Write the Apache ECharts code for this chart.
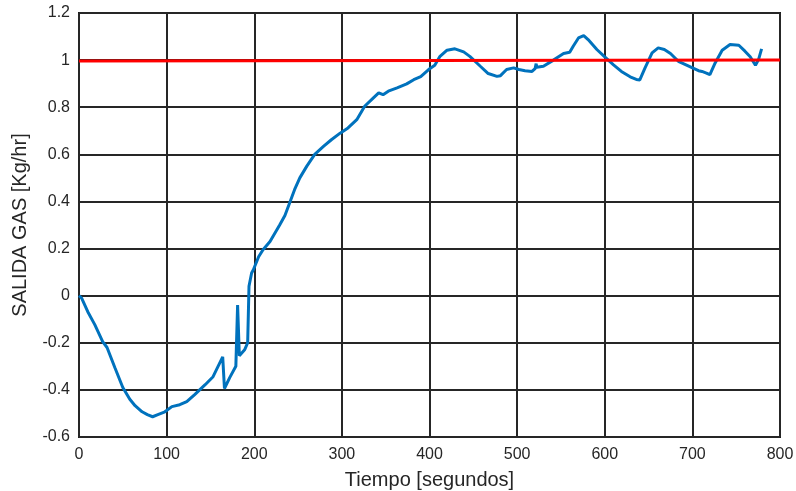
<!DOCTYPE html>
<html>
<head>
<meta charset="utf-8">
<script src="https://cdn.jsdelivr.net/npm/echarts@6/dist/echarts.min.js"></script>
<style>
  html, body { margin: 0; padding: 0; background: #fff; }
  #chart { width: 796px; height: 491px; }
</style>
</head>
<body>
<div id="chart"></div>
<script>
// Gas output response over time (seconds) and its set point
const tiempo = [0, 3, 10, 18, 27, 32, 41, 50, 58, 64, 72, 78, 84, 90, 98, 106, 115, 123, 132, 144, 153, 164, 166, 172, 179, 181, 183, 189, 192.5, 194, 197, 199, 205, 210, 218, 229, 235, 241, 246, 252, 260, 269, 279, 288, 298, 307, 317, 326, 336, 342, 347, 353, 363, 374, 382, 390, 399, 406, 412, 420, 429, 439, 446, 458, 467, 477, 481, 488, 496, 502, 509, 517, 520.5, 521.7, 522.4, 530, 541, 553, 560, 564, 570, 576, 581, 591, 600, 610, 619, 629, 636, 640, 646, 654, 661, 668, 675, 684, 694, 702, 707, 711, 716, 720, 726, 734, 743, 753, 760, 766, 772, 775.5, 779];
const salidaGas = [0, -0.01, -0.068, -0.123, -0.195, -0.22, -0.306, -0.39, -0.44, -0.467, -0.493, -0.505, -0.514, -0.505, -0.493, -0.471, -0.463, -0.45, -0.42, -0.378, -0.344, -0.26, -0.394, -0.348, -0.30, -0.04, -0.255, -0.23, -0.20, 0.04, 0.096, 0.11, 0.165, 0.195, 0.23, 0.30, 0.34, 0.40, 0.45, 0.50, 0.55, 0.60, 0.634, 0.662, 0.69, 0.712, 0.747, 0.804, 0.84, 0.861, 0.853, 0.868, 0.882, 0.899, 0.917, 0.93, 0.96, 0.978, 1.016, 1.042, 1.048, 1.035, 1.016, 0.974, 0.943, 0.931, 0.934, 0.96, 0.967, 0.96, 0.955, 0.952, 0.964, 0.985, 0.97, 0.974, 0.999, 1.028, 1.033, 1.059, 1.094, 1.104, 1.087, 1.045, 1.014, 0.98, 0.952, 0.929, 0.918, 0.916, 0.967, 1.031, 1.052, 1.045, 1.028, 0.995, 0.978, 0.964, 0.955, 0.952, 0.945, 0.938, 0.988, 1.042, 1.066, 1.063, 1.038, 1.014, 0.978, 1.002, 1.048];

// Set point line
const referenciaT = [0, 800];
const referenciaV = [0.996, 1.0];

const xTicks = { min: 0, max: 800, interval: 100 };
const yTicks = { min: -0.6, max: 1.2, interval: 0.2 };

const pairs = (xs, ys) => xs.map((x, i) => [x, ys[i]]);

const chart = echarts.init(document.getElementById('chart'), null, { renderer: 'canvas' });
const font = 'Liberation Sans, Arial, Helvetica, sans-serif';

chart.setOption({
  animation: false,
  backgroundColor: '#ffffff',
  grid: {
    left: 79, right: 16, top: 13, bottom: 54,
    outerBoundsMode: 'none',
    containLabel: false,
    show: true, borderColor: '#1a1a1a', borderWidth: 2, backgroundColor: 'transparent'
  },
  xAxis: {
    type: 'value',
    min: xTicks.min, max: xTicks.max, interval: xTicks.interval,
    name: 'Tiempo [segundos]',
    nameLocation: 'middle', nameGap: 33,
    nameTextStyle: { fontFamily: font, fontSize: 20, color: '#262626' },
    axisLine: { show: false },
    axisTick: { show: false },
    axisLabel: { fontFamily: font, fontSize: 16, color: '#262626', margin: 10 },
    splitLine: { show: true, lineStyle: { color: '#262626', width: 2 } }
  },
  yAxis: {
    type: 'value',
    min: yTicks.min, max: yTicks.max, interval: yTicks.interval,
    name: 'SALIDA GAS [Kg/hr]',
    nameLocation: 'middle', nameGap: 49,
    nameTextStyle: { fontFamily: font, fontSize: 20, color: '#262626' },
    axisLine: { show: false },
    axisTick: { show: false },
    axisLabel: { fontFamily: font, fontSize: 16, color: '#262626', margin: 9 },
    splitLine: { show: true, lineStyle: { color: '#262626', width: 2 } }
  },
  series: [
    {
      type: 'line',
      data: pairs(tiempo, salidaGas),
      showSymbol: false,
      lineStyle: { color: '#0072BD', width: 3 },
      z: 3
    },
    {
      type: 'line',
      data: pairs(referenciaT, referenciaV),
      showSymbol: false,
      lineStyle: { color: '#ff0000', width: 3 },
      z: 4
    }
  ]
});
</script>
</body>
</html>
